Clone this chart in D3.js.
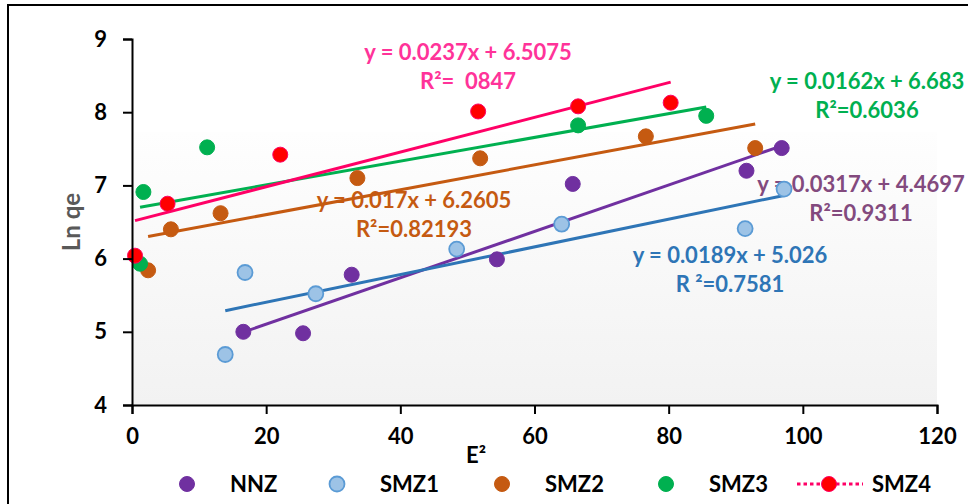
<!DOCTYPE html>
<html>
<head>
<meta charset="utf-8">
<script src="https://cdn.jsdelivr.net/npm/d3@7"></script>
<style>
  body { margin: 0; background: #fff; }
  svg text { font-family: Lato, "Open Sans", sans-serif; font-weight: bold; }
</style>
</head>
<body>
<div id="chart"></div>
<script>
// --- data ---
const seriesNames = ["NNZ", "SMZ1", "SMZ2", "SMZ3", "SMZ4"];

const nnzX  = [16.6, 25.5, 32.75, 54.4, 65.7, 91.6, 96.85];
const nnzY  = [5.00, 4.98, 5.78, 5.99, 7.02, 7.20, 7.51];
const smz1X = [13.9, 16.85, 27.4, 48.4, 64.05, 91.4, 97.2];
const smz1Y = [4.69, 5.81, 5.52, 6.13, 6.47, 6.41, 6.95];
const smz2X = [2.4, 5.8, 13.2, 33.6, 51.9, 76.6, 92.9];
const smz2Y = [5.84, 6.40, 6.62, 7.10, 7.37, 7.67, 7.51];
const smz3X = [1.2, 1.7, 11.2, 66.5, 85.6];
const smz3Y = [5.93, 6.91, 7.52, 7.82, 7.95];
const smz4X = [0.45, 5.3, 22.1, 51.6, 66.5, 80.3];
const smz4Y = [6.04, 6.75, 7.42, 8.01, 8.08, 8.13];

// trend line equations as printed on the chart
const slopes     = [0.0317, 0.0189, 0.017, 0.0162, 0.0237];
const intercepts = [4.4697, 5.026, 6.2605, 6.683, 6.5075];
const eqLabels   = ["y = 0.0317x + 4.4697", "y = 0.0189x + 5.026", "y = 0.017x + 6.2605",
                    "y = 0.0162x + 6.683", "y = 0.0237x + 6.5075"];
const r2Labels   = ["R\u00b2=0.9311", "R \u00b2=0.7581", "R\u00b2=0.82193", "R\u00b2=0.6036", "R\u00b2=  0847"];

const xTicks = [0, 20, 40, 60, 80, 100, 120];
const yTicks = [4, 5, 6, 7, 8, 9];

// --- styling ---
const markerFill   = ["#7030A0", "#9DC3E6", "#C55A11", "#00B050", "#FF0000"];
const markerStroke = ["#7030A0", "#5B9BD5", "#C55A11", "#00B050", "#FF0066"];
const lineColor    = ["#7030A0", "#2E75B6", "#C55A11", "#00B050", "#FF0066"];
const labelColor   = ["#834A7E", "#2E75B6", "#C55A11", "#00B050", "#FF3399"];
// label centre x, baseline of equation line (pixels)
const labelPos = [[861, 192], [730, 263], [414, 208], [867, 89], [468, 60]];

const series = seriesNames.map((name, i) => {
  const xs = [nnzX, smz1X, smz2X, smz3X, smz4X][i];
  const ys = [nnzY, smz1Y, smz2Y, smz3Y, smz4Y][i];
  return { name, i, points: xs.map((x, k) => ({ x, y: ys[k] })) };
});

const width = 968, height = 504;
const svg = d3.select("#chart").append("svg")
  .attr("width", width).attr("height", height);

const x = d3.scaleLinear().domain([0, 120]).range([132, 937]);
const y = d3.scaleLinear().domain([4, 9]).range([405, 39]);

// outer chart border (runs off the right and bottom edge)
svg.append("rect")
  .attr("x", 8).attr("y", 5).attr("width", 990).attr("height", 540)
  .attr("fill", "none").attr("stroke", "#000").attr("stroke-width", 2);

// plot area gradient
const defs = svg.append("defs");
const grad = defs.append("linearGradient").attr("id", "bg")
  .attr("x1", 0).attr("y1", 0).attr("x2", 0).attr("y2", 1);
grad.append("stop").attr("offset", "0%").attr("stop-color", "#fefefe");
grad.append("stop").attr("offset", "100%").attr("stop-color", "#f2f2f2");
svg.append("rect")
  .attr("x", x(0)).attr("y", 132)
  .attr("width", x(120) - x(0)).attr("height", y(4) - 132)
  .attr("fill", "url(#bg)");

// equation labels
const labels = svg.append("g");
series.forEach(s => {
  const [cx, by] = labelPos[s.i];
  labels.append("text")
    .attr("x", cx).attr("y", by).attr("text-anchor", "middle")
    .attr("font-size", 22).attr("fill", labelColor[s.i])
    .text(eqLabels[s.i]);
  labels.append("text")
    .attr("x", cx).attr("y", by + 29).attr("text-anchor", "middle")
    .attr("font-size", 22).attr("fill", labelColor[s.i])
    .style("white-space", "pre")
    .text(r2Labels[s.i]);
});

// trend lines over each series' x range
series.forEach(s => {
  const [x0, x1] = d3.extent(s.points, d => d.x);
  const f = v => intercepts[s.i] + slopes[s.i] * v;
  svg.append("line")
    .attr("x1", x(x0)).attr("y1", y(f(x0)))
    .attr("x2", x(x1)).attr("y2", y(f(x1)))
    .attr("stroke", lineColor[s.i]).attr("stroke-width", 3);
});

// points
series.forEach(s => {
  svg.append("g").selectAll("circle")
    .data(s.points).enter().append("circle")
    .attr("cx", d => x(d.x)).attr("cy", d => y(d.y)).attr("r", 7.5)
    .attr("fill", markerFill[s.i])
    .attr("stroke", markerStroke[s.i]).attr("stroke-width", s.i === 1 ? 1.8 : 1);
});

// axes
const yAxis = svg.append("g").attr("transform", `translate(${x(0)},0)`)
  .call(d3.axisLeft(y).tickValues(yTicks).tickSize(9).tickPadding(16).tickFormat(d3.format("d")));
const xAxis = svg.append("g").attr("transform", `translate(0,${y(4)})`)
  .call(d3.axisBottom(x).tickValues(xTicks).tickSize(9).tickPadding(14).tickFormat(d3.format("d")));
[yAxis, xAxis].forEach(a => {
  a.select(".domain").attr("stroke", "#000").attr("stroke-width", 2);
  a.selectAll(".tick line").attr("stroke", "#000").attr("stroke-width", 2);
  a.selectAll(".tick text").attr("fill", "#000").attr("font-size", 22)
    .attr("font-family", null);
});

// axis titles
svg.append("text")
  .attr("transform", "translate(80,222) rotate(-90)")
  .attr("text-anchor", "middle").attr("font-size", 24).attr("fill", "#595959")
  .text("Ln qe");
svg.append("text")
  .attr("x", 476).attr("y", 463).attr("text-anchor", "middle")
  .attr("font-size", 22).attr("fill", "#000")
  .text("E\u00b2");

// legend
const legendX = [187, 337, 502, 666, 829];
const legend = svg.append("g");
series.forEach(s => {
  const lx = legendX[s.i];
  if (s.i === 4) {
    legend.append("line")
      .attr("x1", lx - 32).attr("x2", lx + 34).attr("y1", 484).attr("y2", 484)
      .attr("stroke", lineColor[s.i]).attr("stroke-width", 3)
      .attr("stroke-dasharray", "3.5,3");
  }
  legend.append("circle")
    .attr("cx", lx).attr("cy", 484).attr("r", 7.5)
    .attr("fill", markerFill[s.i]).attr("stroke", markerStroke[s.i])
    .attr("stroke-width", s.i === 1 ? 1.8 : 1);
  legend.append("text")
    .attr("x", lx + 43).attr("y", 492)
    .attr("font-size", 22).attr("fill", "#000")
    .text(s.name);
});
</script>
</body>
</html>
